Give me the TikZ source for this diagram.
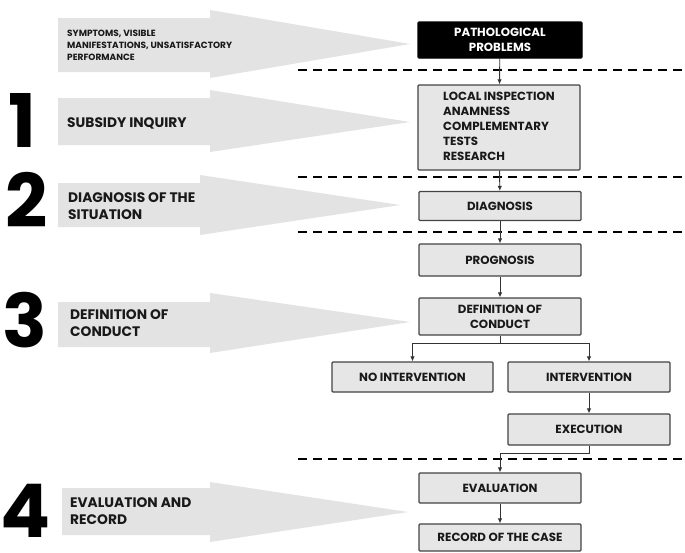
\documentclass[tikz,border=0pt]{standalone}
\usepackage{fontspec}
\setmainfont{Poppins}
\usetikzlibrary{arrows.meta}
\definecolor{boxfill}{HTML}{E6E6E6}
\definecolor{boxline}{HTML}{444444}
\definecolor{arrowfill}{HTML}{E3E3E3}
\definecolor{conn}{HTML}{333333}
\begin{document}
\begin{tikzpicture}[x=1pt,y=-1pt,
  stepbox/.style={draw=boxline, fill=boxfill, line width=1.3pt, minimum width=162pt,
    inner sep=0pt, align=center, rounded corners=1pt,
    font=\bfseries\fontsize{11.8}{15}\selectfont, text=black!90},
  bigarrow/.style={fill=arrowfill, draw=none},
  sidetext/.style={anchor=west, align=left, inner sep=0pt, text=black!90,
    font=\bfseries\fontsize{13.8}{17}\selectfont},
  digit/.style={anchor=base, inner sep=0pt, font=\bfseries\fontsize{74}{74}\selectfont},
  sep/.style={line width=2pt, dash pattern=on 9pt off 6pt},
  conn/.style={draw=conn, line width=0.9pt, -{Latex[length=5pt,width=4.5pt]}},
  connplain/.style={draw=conn, line width=0.9pt}]
\useasboundingbox (0,0) rectangle (685,552);
\fill[white] (0,0) rectangle (685,552);

% big grey arrows
\fill[bigarrow] (58,18) -- (210,18) -- (210,10) -- (410,44) -- (210,78) -- (210,72) -- (58,72) -- cycle;
\fill[bigarrow] (58,98) -- (210,98) -- (210,90) -- (410,122) -- (210,152) -- (210,145) -- (58,145) -- cycle;
\fill[bigarrow] (58,183) -- (200,183) -- (200,175) -- (400,205) -- (200,235) -- (200,227) -- (58,227) -- cycle;
\fill[bigarrow] (58,302) -- (210,302) -- (210,293) -- (410,322) -- (210,353) -- (210,347) -- (58,347) -- cycle;
\fill[bigarrow] (62,488) -- (210,488) -- (210,482) -- (408,512) -- (210,542) -- (210,535) -- (62,535) -- cycle;

% arrow texts
\node[sidetext, font=\bfseries\fontsize{9}{12}\selectfont] (t0) at (67,45)
  {SYMPTOMS, VISIBLE\\MANIFESTATIONS, UNSATISFACTORY\\PERFORMANCE};
\node[sidetext] (t1) at (67,123) {SUBSIDY INQUIRY};
\node[sidetext] (t2) at (68,206.5) {DIAGNOSIS OF THE\\SITUATION};
\node[sidetext] (t3) at (70,323.5) {DEFINITION OF\\CONDUCT};
\node[sidetext] (t4) at (70,511) {EVALUATION AND\\RECORD};

% digits
\node[digit] (d1) at (22,147) {1};
\node[digit] (d2) at (27,227) {2};
\node[digit] (d3) at (25,347) {3};
\node[digit] (d4) at (26,537) {4};

% dashed separators
\draw[sep] (298,70) -- (685,70);
\draw[sep] (298,177) -- (685,177);
\draw[sep] (298,232) -- (685,232);
\draw[sep] (298,459) -- (685,459);

% boxes
\node[stepbox, fill=black, draw=black, text=white, minimum width=164pt, minimum height=36pt] (path) at (500,40)
  {PATHOLOGICAL\\PROBLEMS};
\node[stepbox, minimum height=85pt] (local) at (499,127.5)
  {\begin{tabular}{@{}l@{}}LOCAL INSPECTION\\ANAMNESS\\COMPLEMENTARY\\TESTS\\RESEARCH\end{tabular}};
\node[stepbox, minimum height=29pt] (diag) at (500,206) {DIAGNOSIS};
\node[stepbox, minimum height=32pt] (prog) at (500,260) {PROGNOSIS};
\node[stepbox, minimum height=37pt] (def) at (500,316.5) {DEFINITION OF\\CONDUCT};
\node[stepbox, minimum width=161pt, minimum height=30pt] (noint) at (412.5,377) {NO INTERVENTION};
\node[stepbox, minimum height=30pt] (int) at (589,377) {INTERVENTION};
\node[stepbox, minimum height=31pt] (exec) at (589,429.5) {EXECUTION};
\node[stepbox, minimum height=30pt] (eval) at (500,488) {EVALUATION};
\node[stepbox, minimum height=27pt] (rec) at (500,537.5) {RECORD OF THE CASE};

% connectors
\draw[conn] (path) -- (local);
\draw[conn] (local) -- (diag);
\draw[conn] (diag) -- (prog);
\draw[conn] (prog) -- (def);
\coordinate (br) at (500,343);
\draw[connplain] (def.south) -- (br);
\draw[conn] (br) -| (noint.north);
\draw[conn] (br) -| (int.north);
\draw[conn] (int) -- (exec);
\draw[conn] (exec.south) -- ++(0,8) -| (eval.north);
\draw[conn] (eval) -- (rec);
\end{tikzpicture}
\end{document}
